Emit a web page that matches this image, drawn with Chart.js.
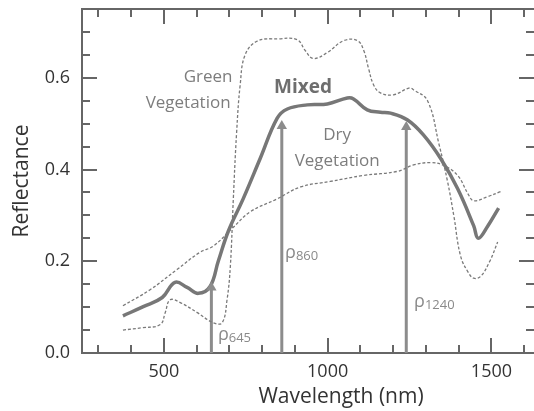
<!DOCTYPE html>
<html>
<head>
<meta charset="utf-8">
<script src="https://cdn.jsdelivr.net/npm/chart.js@4.4.1/dist/chart.umd.min.js"></script>
<style>
  html, body { margin: 0; padding: 0; background: #fff; }
</style>
</head>
<body>
<canvas id="spectra" width="534" height="411"></canvas>
<script>
// spectra (wavelength in nm, reflectance 0..1)
const greenWl = [375, 433, 489, 504, 519, 550, 602, 651, 678, 693, 703, 712, 722, 733, 748, 785, 850, 907, 932, 956, 999, 1049, 1091, 1110, 1125, 1140, 1161, 1201, 1250, 1262, 1305, 1340, 1366, 1385, 1406, 1430, 1446, 1467, 1495, 1519];
const greenR  = [0.050, 0.055, 0.062, 0.088, 0.116, 0.110, 0.088, 0.066, 0.066, 0.117, 0.190, 0.336, 0.480, 0.585, 0.650, 0.680, 0.685, 0.683, 0.659, 0.642, 0.655, 0.681, 0.681, 0.660, 0.620, 0.585, 0.567, 0.563, 0.578, 0.574, 0.550, 0.455, 0.374, 0.300, 0.211, 0.175, 0.163, 0.167, 0.200, 0.242];

const dryWl = [375, 458, 540, 611, 651, 709, 764, 846, 917, 1008, 1109, 1213, 1262, 1314, 1354, 1397, 1430, 1446, 1489, 1528];
const dryR  = [0.103, 0.138, 0.182, 0.220, 0.233, 0.272, 0.308, 0.336, 0.362, 0.374, 0.387, 0.396, 0.410, 0.415, 0.409, 0.387, 0.345, 0.332, 0.341, 0.352];

const mixedWl = [375, 437, 495, 534, 571, 605, 641, 666, 697, 742, 794, 846, 877, 938, 999, 1060, 1079, 1121, 1161, 1192, 1244, 1293, 1345, 1397, 1446, 1460, 1489, 1522];
const mixedR  = [0.081, 0.101, 0.121, 0.154, 0.143, 0.130, 0.145, 0.200, 0.266, 0.336, 0.424, 0.512, 0.532, 0.541, 0.543, 0.556, 0.554, 0.530, 0.525, 0.523, 0.508, 0.475, 0.424, 0.358, 0.277, 0.250, 0.277, 0.316];

// the three band arrows (wavelength, reflectance of the arrow head)
const bandWl = [645, 860, 1240];
const bandTop = [0.143, 0.495, 0.493];
const bandNames = ['645', '860', '1240'];

// axes
const xTickLabels = [500, 1000, 1500];
const xMinorTicks = [300, 400, 500, 600, 700, 800, 900, 1000, 1100, 1200, 1300, 1400, 1500, 1600];
const yTickLabels = [0.0, 0.2, 0.4, 0.6];
const yMinorTicks = [0.05, 0.1, 0.15, 0.2, 0.25, 0.3, 0.35, 0.4, 0.45, 0.5, 0.55, 0.6, 0.65, 0.7];

const FONT = "'Open Sans', 'DejaVu Sans', sans-serif";
const AXIS = '#666';

function pts(wl, r) {
  return wl.map((w, i) => ({ x: w, y: r[i] }));
}

// text put inside the plot, placed in data units
const notes = [
  { text: 'Green', x: 635, y: 0.602, size: 17, bold: false, color: '#7d7d7d' },
  { text: 'Vegetation', x: 574, y: 0.545, size: 17, bold: false, color: '#7d7d7d' },
  { text: 'Mixed', x: 925, y: 0.578, size: 19, bold: true, color: '#6e6e6e' },
  { text: 'Dry', x: 1029, y: 0.475, size: 17, bold: false, color: '#7d7d7d' },
  { text: 'Vegetation', x: 1029, y: 0.419, size: 17, bold: false, color: '#7d7d7d' }
];
const rhoPos = [
  { x: 665, y: 0.035 },
  { x: 870, y: 0.214 },
  { x: 1264, y: 0.107 }
];

const decorations = {
  id: 'decorations',
  afterDraw(chart) {
    const { ctx, chartArea: a, scales: { x, y } } = chart;
    ctx.save();

    // frame: top line and inward ticks on all four sides
    ctx.strokeStyle = AXIS;
    ctx.lineWidth = 2;
    ctx.beginPath();
    ctx.moveTo(a.left, a.top);
    ctx.lineTo(a.right, a.top);
    ctx.stroke();

    xMinorTicks.forEach(v => {
      const px = Math.round(x.getPixelForValue(v));
      const len = xTickLabels.includes(v) ? 15 : 8;
      ctx.beginPath();
      ctx.moveTo(px, a.bottom);
      ctx.lineTo(px, a.bottom - len);
      ctx.moveTo(px, a.top);
      ctx.lineTo(px, a.top + len);
      ctx.stroke();
    });
    yMinorTicks.forEach(v => {
      const py = Math.round(y.getPixelForValue(v));
      const major = yTickLabels.some(t => Math.abs(t - v) < 1e-6);
      const len = major ? 15 : 8;
      ctx.beginPath();
      ctx.moveTo(a.left, py);
      ctx.lineTo(a.left + len, py);
      ctx.moveTo(a.right, py);
      ctx.lineTo(a.right - len, py);
      ctx.stroke();
    });

    // labels in the plot
    ctx.textAlign = 'center';
    ctx.textBaseline = 'middle';
    notes.forEach(n => {
      ctx.font = (n.bold ? 'bold ' : '') + n.size + 'px ' + FONT;
      ctx.fillStyle = n.color;
      ctx.fillText(n.text, x.getPixelForValue(n.x), y.getPixelForValue(n.y));
    });

    // rho labels with subscripts
    ctx.textAlign = 'left';
    ctx.fillStyle = '#8a8a8a';
    rhoPos.forEach((p, i) => {
      const px = x.getPixelForValue(p.x);
      const py = y.getPixelForValue(p.y);
      ctx.font = '18px ' + FONT;
      ctx.fillText('ρ', px, py - 2);
      const w = ctx.measureText('ρ').width;
      ctx.font = '13px ' + FONT;
      ctx.fillText(bandNames[i], px + w, py + 1);
    });

    // x axis title
    ctx.textAlign = 'center';
    ctx.fillStyle = '#333';
    ctx.font = '21px ' + FONT;
    ctx.fillText('Wavelength (nm)', 341, 397);

    ctx.restore();
  }
};

const dashed = {
  borderColor: '#7a7a7a',
  borderWidth: 1.3,
  borderDash: [3, 2],
  pointRadius: 0,
  tension: 0.4,
  fill: false
};

const arrowSets = bandWl.map((w, i) => ({
  data: [{ x: w, y: 0 }, { x: w, y: bandTop[i] }],
  borderColor: '#8c8c8c',
  borderWidth: 3,
  pointStyle: 'triangle',
  pointRadius: [0, 6],
  pointBackgroundColor: '#8c8c8c',
  pointBorderWidth: 0,
  tension: 0,
  clip: false
}));

new Chart(document.getElementById('spectra'), {
  type: 'line',
  data: {
    datasets: [
      Object.assign({ label: 'Green Vegetation', data: pts(greenWl, greenR) }, dashed),
      Object.assign({ label: 'Dry Vegetation', data: pts(dryWl, dryR) }, dashed),
      ...arrowSets,
      {
        label: 'Mixed',
        data: pts(mixedWl, mixedR),
        borderColor: '#777',
        borderWidth: 3.5,
        pointRadius: 0,
        tension: 0.4,
        fill: false
      }
    ]
  },
  options: {
    responsive: false,
    animation: false,
    devicePixelRatio: 1,
    layout: { autoPadding: false, padding: { top: 9, right: 0, left: 0, bottom: 0 } },
    plugins: {
      legend: { display: false },
      tooltip: { enabled: false }
    },
    scales: {
      x: {
        type: 'linear',
        min: 250,
        max: 1630,
        grid: { display: false, drawTicks: false },
        border: { color: AXIS, width: 2 },
        afterBuildTicks: s => { s.ticks = xTickLabels.map(v => ({ value: v })); },
        afterFit: s => { s.height = 58; s.paddingLeft = 0; s.paddingRight = 0; },
        ticks: {
          padding: 8,
          color: '#333',
          font: { family: FONT, size: 18 },
          callback: v => String(v)
        }
      },
      y: {
        min: 0,
        max: 0.75,
        grid: { display: false, drawTicks: false },
        border: { color: AXIS, width: 2 },
        afterBuildTicks: s => { s.ticks = yTickLabels.map(v => ({ value: v })); },
        afterFit: s => { s.width = 82; s.paddingTop = 0; s.paddingBottom = 0; },
        ticks: {
          padding: 12,
          color: '#333',
          font: { family: FONT, size: 18 },
          callback: v => Number(v).toFixed(1)
        },
        title: {
          display: true,
          text: 'Reflectance',
          color: '#333',
          font: { family: FONT, size: 21 },
          padding: { top: 9, bottom: 4 }
        }
      }
    }
  },
  plugins: [decorations]
});
</script>
</body>
</html>
